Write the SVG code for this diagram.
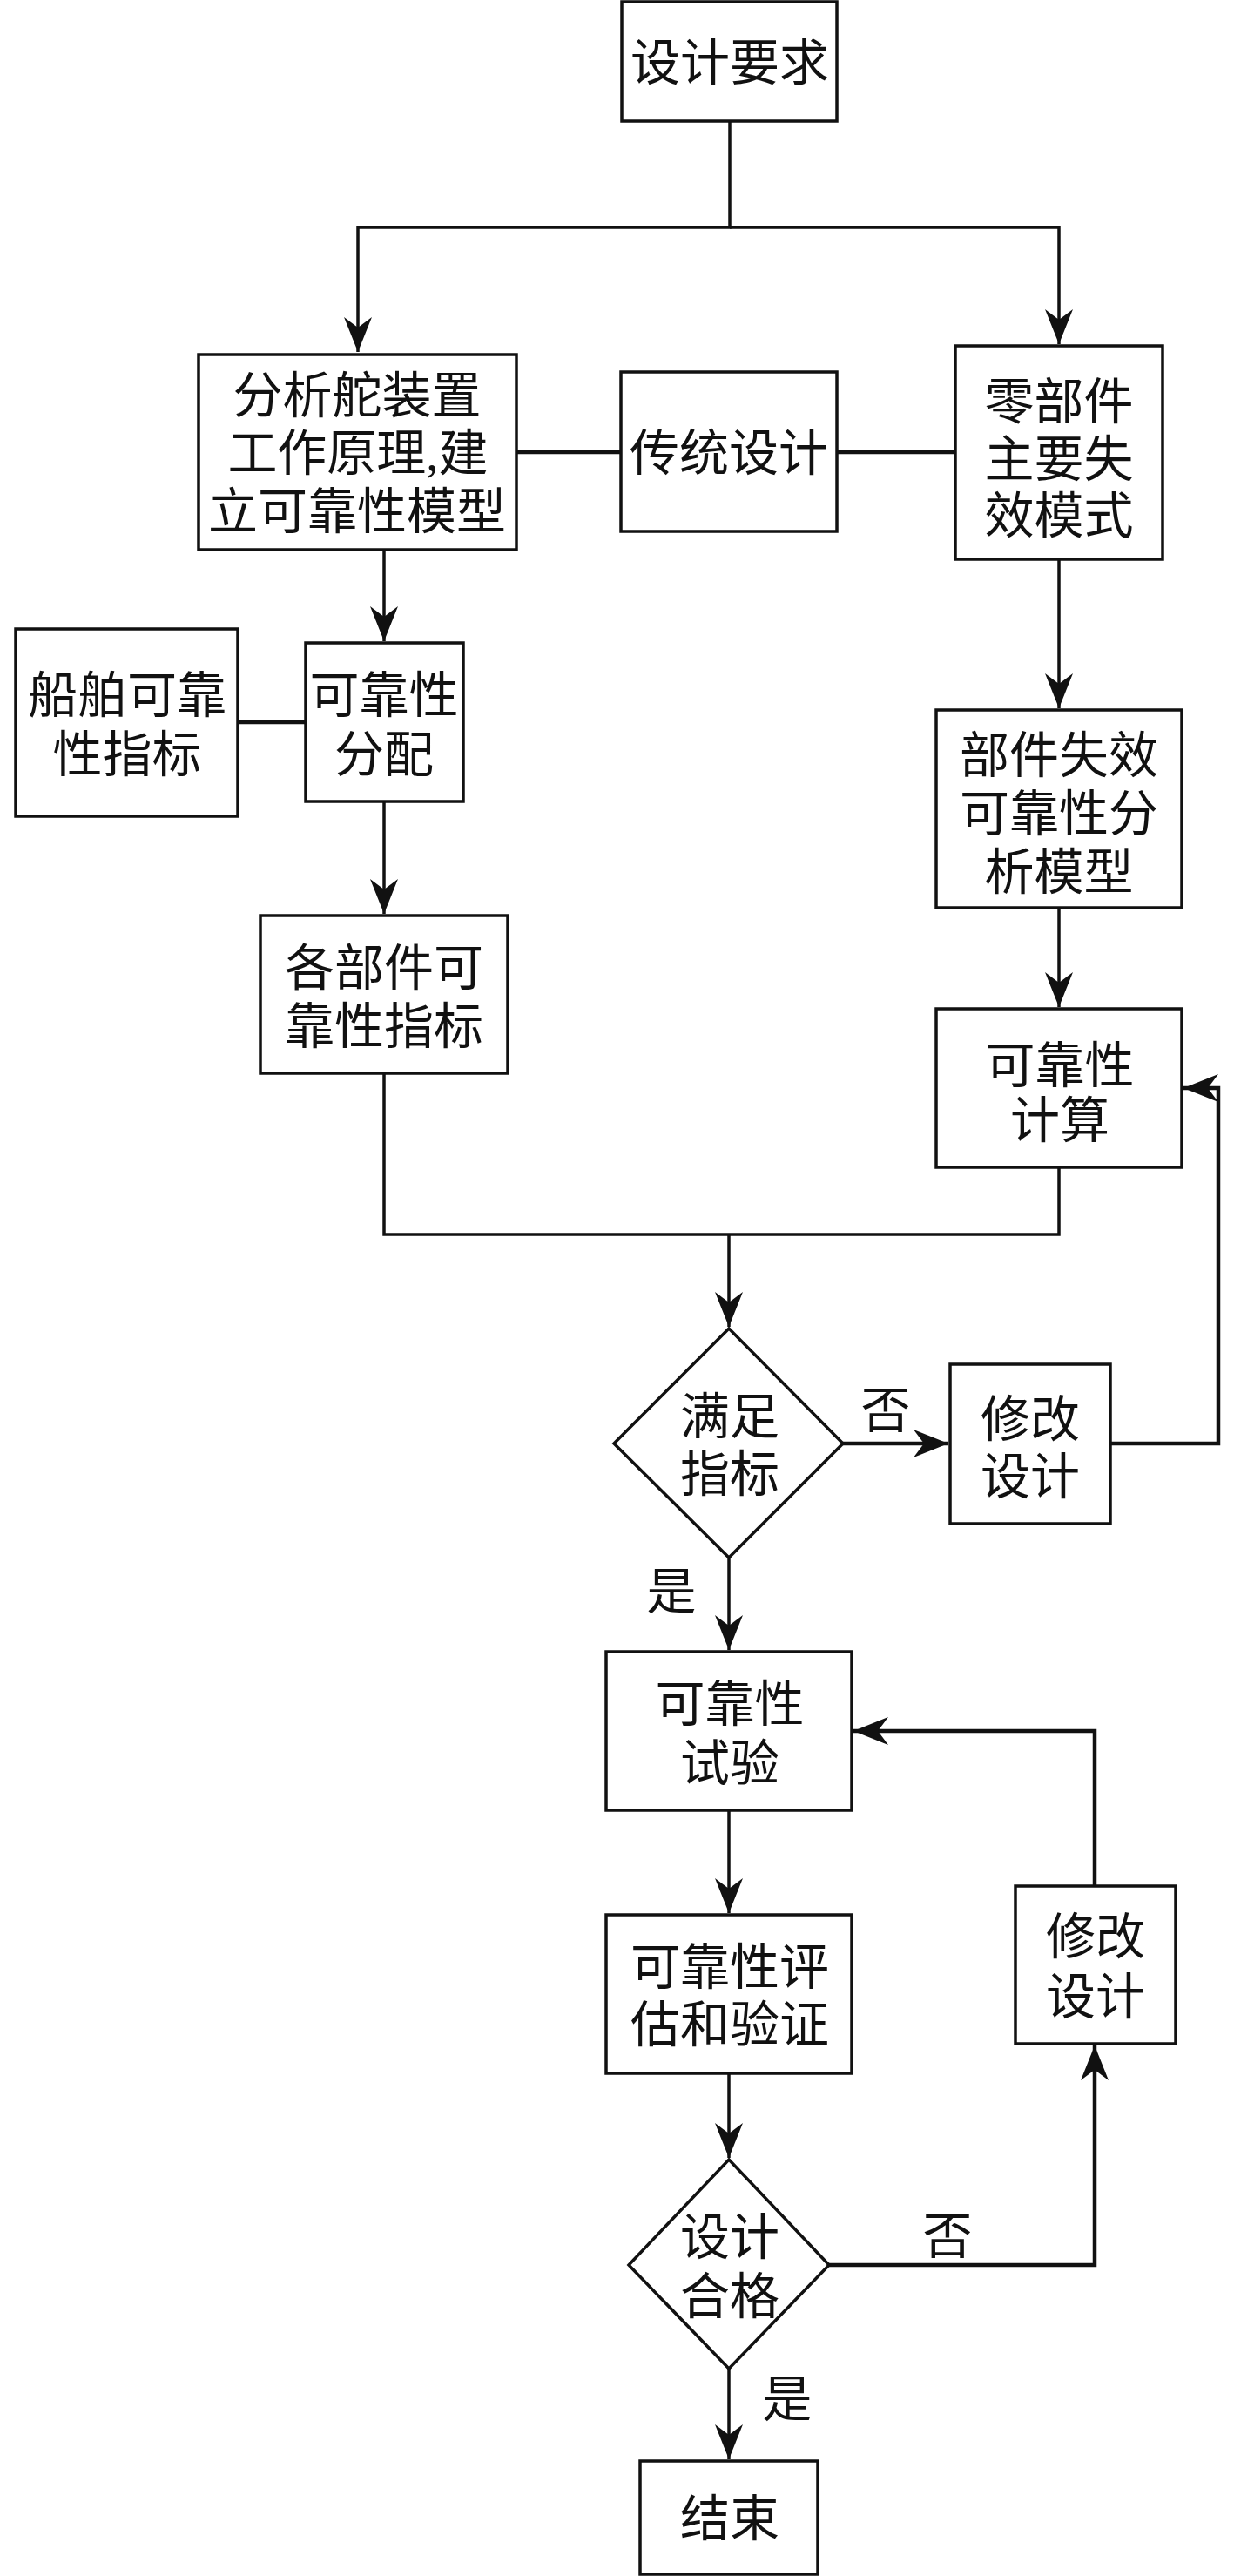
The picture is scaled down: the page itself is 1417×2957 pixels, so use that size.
<svg xmlns="http://www.w3.org/2000/svg" width="1417" height="2957" viewBox="0 0 1417 2957">
<style>
.box{fill:#fff;stroke:#111;stroke-width:3.5}
.t{font-family:"Liberation Serif","Noto Sans CJK SC",serif;font-size:57px;fill:#111;text-anchor:middle}
.c{fill:none;stroke:#111;stroke-width:3.5}
.k{fill:none;stroke:#111;stroke-width:4.5}
</style>
<defs>
<marker id="ah" markerUnits="userSpaceOnUse" viewBox="-42 -18 44 36" refX="0" refY="0" markerWidth="44" markerHeight="36" orient="auto">
<path d="M0,0 L-40,-16 L-28,0 L-40,16 Z" fill="#111"/>
</marker>
</defs>
<rect width="1417" height="2957" fill="#fff"/>
<g id="connectors">
<path class="c" d="M838,139 V261 H411 V404" marker-end="url(#ah)"/>
<path class="c" d="M838,261 H1216 V395" marker-end="url(#ah)"/>
<path class="k" d="M593,519 H713"/>
<path class="k" d="M961,519 H1097"/>
<path class="c" d="M441,631 V736" marker-end="url(#ah)"/>
<path class="k" d="M273,829 H351"/>
<path class="c" d="M441,920 V1049" marker-end="url(#ah)"/>
<path class="c" d="M1216,642 V813" marker-end="url(#ah)"/>
<path class="c" d="M1216,1042 V1156" marker-end="url(#ah)"/>
<path class="c" d="M441,1232 V1417 H1216 V1340"/>
<path class="c" d="M837,1417 V1523" marker-end="url(#ah)"/>
<path class="k" d="M968,1657 H1089" marker-end="url(#ah)"/>
<path class="k" d="M1275,1657 H1399 V1249 H1359" marker-end="url(#ah)"/>
<path class="c" d="M837,1788 V1894" marker-end="url(#ah)"/>
<path class="c" d="M837,2078 V2196" marker-end="url(#ah)"/>
<path class="c" d="M837,2380 V2477" marker-end="url(#ah)"/>
<path class="k" d="M952,2600 H1257 V2348" marker-end="url(#ah)"/>
<path class="k" d="M1257,2165 V1987 H980" marker-end="url(#ah)"/>
<path class="c" d="M837,2719 V2823" marker-end="url(#ah)"/>
</g>
<g id="n1"><rect class="box" x="714" y="2" width="247" height="137"/><text class="t" x="838" y="92">设计要求</text></g>
<g id="n2"><rect class="box" x="228" y="407" width="365" height="224"/><text class="t" x="410"><tspan x="410" y="474">分析舵装置</tspan><tspan x="411" y="540">工作原理,建</tspan><tspan x="410" y="607">立可靠性模型</tspan></text></g>
<g id="n3"><rect class="box" x="713" y="427" width="248" height="183"/><text class="t" x="837" y="540">传统设计</text></g>
<g id="n4"><rect class="box" x="1097" y="397" width="238" height="245"/><text class="t"><tspan x="1216" y="481">零部件</tspan><tspan x="1216" y="547">主要失</tspan><tspan x="1216" y="612">效模式</tspan></text></g>
<g id="n5"><rect class="box" x="18" y="722" width="255" height="215"/><text class="t"><tspan x="146" y="818">船舶可靠</tspan><tspan x="146" y="886">性指标</tspan></text></g>
<g id="n6"><rect class="box" x="351" y="738" width="181" height="182"/><text class="t"><tspan x="441" y="818">可靠性</tspan><tspan x="441" y="886">分配</tspan></text></g>
<g id="n7"><rect class="box" x="299" y="1051" width="284" height="181"/><text class="t"><tspan x="441" y="1131">各部件可</tspan><tspan x="441" y="1198">靠性指标</tspan></text></g>
<g id="n8"><rect class="box" x="1075" y="815" width="282" height="227"/><text class="t"><tspan x="1216" y="887">部件失效</tspan><tspan x="1216" y="954">可靠性分</tspan><tspan x="1216" y="1021">析模型</tspan></text></g>
<g id="n9"><rect class="box" x="1075" y="1158" width="282" height="182"/><text class="t"><tspan x="1217" y="1243">可靠性</tspan><tspan x="1217" y="1306">计算</tspan></text></g>
<g id="d1"><path class="box" d="M837,1525 L968,1657 L837,1788 L705,1657 Z"/><text class="t"><tspan x="838" y="1646">满足</tspan><tspan x="838" y="1712">指标</tspan></text></g>
<g id="n10"><rect class="box" x="1091" y="1566" width="184" height="183"/><text class="t"><tspan x="1183" y="1649">修改</tspan><tspan x="1183" y="1715">设计</tspan></text></g>
<g id="n11"><rect class="box" x="696" y="1896" width="282" height="182"/><text class="t"><tspan x="838" y="1976">可靠性</tspan><tspan x="838" y="2044">试验</tspan></text></g>
<g id="n12"><rect class="box" x="1166" y="2165" width="184" height="181"/><text class="t"><tspan x="1258" y="2243">修改</tspan><tspan x="1258" y="2312">设计</tspan></text></g>
<g id="n13"><rect class="box" x="696" y="2198" width="282" height="182"/><text class="t"><tspan x="838" y="2278">可靠性评</tspan><tspan x="838" y="2344">估和验证</tspan></text></g>
<g id="d2"><path class="box" d="M837,2479 L952,2600 L837,2719 L722,2600 Z"/><text class="t"><tspan x="838" y="2588">设计</tspan><tspan x="838" y="2656">合格</tspan></text></g>
<g id="n14"><rect class="box" x="735" y="2825" width="204" height="130"/><text class="t" x="838" y="2911">结束</text></g>
<g id="labels">
<text class="t" x="1017" y="1639">否</text>
<text class="t" x="771" y="1847">是</text>
<text class="t" x="1088" y="2587">否</text>
<text class="t" x="904" y="2774">是</text>
</g>
</svg>
